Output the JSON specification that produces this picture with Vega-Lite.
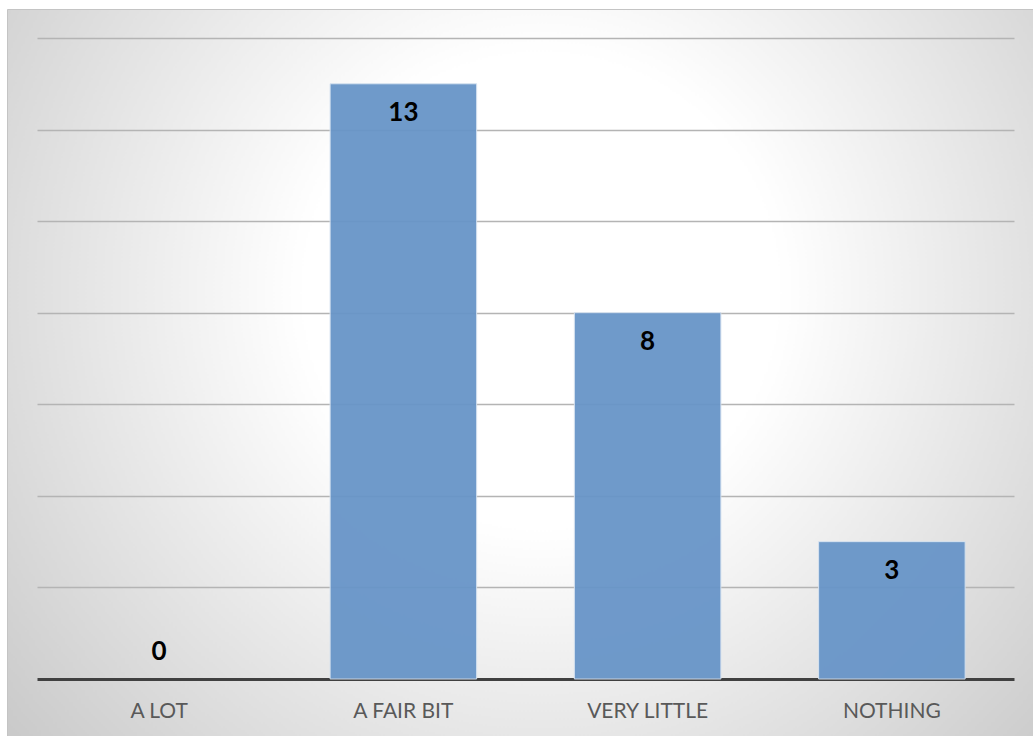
{
  "$schema": "https://vega.github.io/schema/vega-lite/v6.json",
  "autosize": {"type": "none"},
  "padding": {"left": 7, "top": 9, "right": 0, "bottom": 0},
  "width": 1026,
  "height": 727,
  "background": "#ffffff",
  "config": {
    "view": {
      "stroke": "#c4c4c4",
      "strokeWidth": 1,
      "fill": {
        "gradient": "radial",
        "x1": 0.52, "y1": 0.42, "r1": 0,
        "x2": 0.52, "y2": 0.42, "r2": 0.72,
        "stops": [
          {"offset": 0, "color": "#ffffff"},
          {"offset": 0.32, "color": "#ffffff"},
          {"offset": 1, "color": "#c4c4c4"}
        ]
      }
    }
  },
  "data": {
    "values": [
      {"answer": "A LOT", "count": 0},
      {"answer": "A FAIR BIT", "count": 13},
      {"answer": "VERY LITTLE", "count": 8},
      {"answer": "NOTHING", "count": 3}
    ]
  },
  "encoding": {
    "x": {
      "field": "answer",
      "type": "nominal",
      "sort": null,
      "scale": {"domain": ["A LOT", "A FAIR BIT", "VERY LITTLE", "NOTHING"], "range": [30, 1007], "paddingInner": 0.4, "paddingOuter": 0.2},
      "axis": {
        "title": null,
        "orient": "bottom",
        "offset": -57,
        "domainColor": "#404040",
        "domainWidth": 3,
        "ticks": false,
        "labelAngle": 0,
        "labelFont": "Lato",
        "labelFontSize": 21,
        "labelColor": "#595959",
        "labelPadding": 32,
        "labelBaseline": "middle",
        "grid": false
      }
    },
    "y": {
      "field": "count",
      "type": "quantitative",
      "scale": {"domain": [0, 14], "range": [670, 29], "nice": false, "zero": true},
      "axis": {
        "title": null,
        "labels": false,
        "ticks": false,
        "domain": false,
        "grid": true,
        "values": [2, 4, 6, 8, 10, 12, 14],
        "gridColor": "#b4b4b4",
        "gridWidth": 1.5
      }
    }
  },
  "layer": [
    {
      "transform": [{"filter": "datum.count > 0"}],
      "mark": {"type": "bar", "color": "#6895c8", "opacity": 0.95, "stroke": "#d6e2f0", "strokeWidth": 1}
    },
    {
      "transform": [{"filter": "datum.count > 0"}],
      "mark": {"type": "text", "font": "Lato", "fontWeight": "bold", "fontSize": 26, "color": "#000000", "baseline": "middle", "dy": 29},
      "encoding": {"text": {"field": "count", "type": "quantitative"}}
    },
    {
      "transform": [{"filter": "datum.count == 0"}],
      "mark": {"type": "text", "font": "Lato", "fontWeight": "bold", "fontSize": 26, "color": "#000000", "baseline": "middle", "dy": -27},
      "encoding": {"text": {"field": "count", "type": "quantitative"}}
    }
  ]
}
